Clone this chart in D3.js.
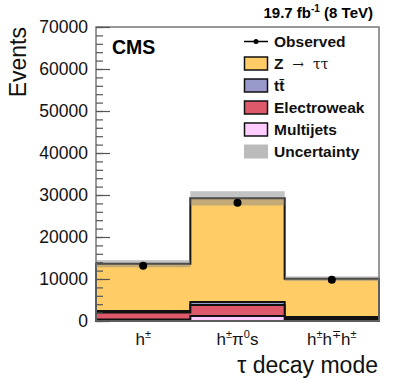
<!DOCTYPE html>
<html>
<head>
<meta charset="utf-8">
<script src="https://cdn.jsdelivr.net/npm/d3@7"></script>
<style>
body { margin: 0; background: #fff; }
svg { font-family: "Liberation Sans", Arial, sans-serif; }
</style>
</head>
<body>
<div id="chart"></div>
<script>
// tau decay modes, each label is a list of [base, superscript]
var categories = ["h1", "h1pi0s", "h3"];
var catLabels = [
	[["h", "\u00b1"]],
	[["h", "\u00b1"], ["\u03c0", "0"], ["s", ""]],
	[["h", "\u00b1"], ["h", "\u2213"], ["h", "\u00b1"]]
];

// stacked backgrounds (bottom to top)
var multijets = [360, 1190, 250];
var electroweak = [1640, 2610, 450];
var ttbar = [380, 720, 250];
var ztautau = [11260, 24680, 9120];
var uncertainty = [850, 1700, 550];
var observed = [13170, 28150, 9830];

var yTicks = [0, 10000, 20000, 30000, 40000, 50000, 60000, 70000];

var width = 399, height = 387;
var plot = {left: 96, right: 379, top: 27, bottom: 321};

var svg = d3.select("#chart").append("svg")
	.attr("width", width)
	.attr("height", height);

var x = d3.scaleBand()
	.domain(categories)
	.range([plot.left, plot.right])
	.padding(0);

var y = d3.scaleLinear()
	.domain([0, 70000])
	.range([plot.bottom, plot.top]);

// layers: name, values, colour (bottom first)
var layers = [
	{name: "Multijets", values: multijets, color: "#ffccff"},
	{name: "Electroweak", values: electroweak, color: "#de5a6a"},
	{name: "ttbar", values: ttbar, color: "#9999cc"},
	{name: "Z", values: ztautau, color: "#ffcc66"}
];

// cumulative sums
var cum = categories.map(() => 0);
layers.forEach(function(l) {
	l.top = l.values.map((v, i) => (cum[i] += v));
});
var total = cum.slice();

function stepPath(tops) {
	var p = d3.path();
	p.moveTo(x(categories[0]), y(0));
	categories.forEach(function(c, i) {
		p.lineTo(x(c), y(tops[i]));
		p.lineTo(x(c) + x.bandwidth(), y(tops[i]));
	});
	p.lineTo(plot.right, y(0));
	p.closePath();
	return p.toString();
}

// draw the stack, largest first so smaller ones are drawn over it
layers.slice().reverse().forEach(function(l) {
	svg.append("path")
		.attr("d", stepPath(l.top))
		.attr("fill", l.color)
		.attr("stroke", "#111")
		.attr("stroke-width", 2)
		.attr("stroke-linejoin", "miter");
});

// uncertainty band
svg.selectAll(".unc")
	.data(categories)
	.enter().append("rect")
		.attr("class", "unc")
		.attr("x", d => x(d))
		.attr("width", x.bandwidth())
		.attr("y", (d, i) => y(total[i] + uncertainty[i]))
		.attr("height", (d, i) => y(total[i] - uncertainty[i]) - y(total[i] + uncertainty[i]))
		.attr("fill", "#888")
		.attr("fill-opacity", 0.5);

// observed data
svg.selectAll(".err")
	.data(categories)
	.enter().append("line")
		.attr("x1", d => x(d) + x.bandwidth() / 2)
		.attr("x2", d => x(d) + x.bandwidth() / 2)
		.attr("y1", (d, i) => y(observed[i] + Math.sqrt(observed[i])))
		.attr("y2", (d, i) => y(observed[i] - Math.sqrt(observed[i])))
		.attr("stroke", "#000");
svg.selectAll(".obs")
	.data(categories)
	.enter().append("circle")
		.attr("cx", d => x(d) + x.bandwidth() / 2)
		.attr("cy", (d, i) => y(observed[i]))
		.attr("r", 4)
		.attr("fill", "#000");

// frame
svg.append("rect")
	.attr("x", plot.left)
	.attr("y", plot.top)
	.attr("width", plot.right - plot.left)
	.attr("height", plot.bottom - plot.top)
	.attr("fill", "none")
	.attr("stroke", "#777")
	.attr("stroke-width", 1.5);

// y axis, ticks pointing inwards
var minor = svg.append("g")
	.attr("transform", "translate(" + plot.left + ",0)")
	.call(d3.axisLeft(y).tickValues(d3.range(0, 70001, 2000)).tickSize(-7).tickFormat(""));
minor.select(".domain").remove();
var major = svg.append("g")
	.attr("transform", "translate(" + plot.left + ",0)")
	.call(d3.axisLeft(y).tickValues(yTicks).tickSize(-14).tickPadding(8).tickFormat(d3.format("d")));
major.select(".domain").remove();
svg.selectAll(".tick line").attr("stroke", "#555").attr("stroke-width", 1.2);
major.selectAll("text")
	.attr("font-size", "17.5px")
	.attr("fill", "#111")
	.attr("font-family", "Liberation Sans, Arial, sans-serif");

// category labels with superscripts
svg.selectAll(".cat")
	.data(catLabels)
	.enter().append("text")
		.attr("class", "cat")
		.attr("x", (d, i) => x(categories[i]) + x.bandwidth() / 2)
		.attr("y", 345)
		.attr("text-anchor", "middle")
		.attr("font-size", "17px")
		.attr("fill", "#111")
		.each(function(parts) {
			var t = d3.select(this);
			var raised = false;
			parts.forEach(function(p) {
				t.append("tspan").attr("dy", raised ? 7 : 0).text(p[0]);
				raised = false;
				if (p[1]) {
					t.append("tspan").attr("dy", -7).attr("font-size", "11px").text(p[1]);
					raised = true;
				}
			});
		});

// axis titles
svg.append("text")
	.attr("transform", "translate(26," + plot.top + ") rotate(-90)")
	.attr("text-anchor", "end")
	.attr("font-size", "23px")
	.attr("fill", "#111")
	.text("Events");
svg.append("text")
	.attr("x", 378)
	.attr("y", 373)
	.attr("text-anchor", "end")
	.attr("font-size", "23px")
	.attr("fill", "#111")
	.text("\u03c4 decay mode");

// CMS label and luminosity
svg.append("text")
	.attr("x", 112)
	.attr("y", 54)
	.attr("font-size", "19.5px")
	.attr("font-weight", "bold")
	.text("CMS");
var lumi = svg.append("text")
	.attr("x", 373)
	.attr("y", 18)
	.attr("text-anchor", "end")
	.attr("font-size", "15px")
	.attr("font-weight", "bold");
lumi.append("tspan").text("19.7 fb");
lumi.append("tspan").attr("dy", -6).attr("font-size", "10px").text("-1");
lumi.append("tspan").attr("dy", 6).text(" (8 TeV)");

// legend
var legendItems = [
	{label: "Observed", type: "data"},
	{label: "Z", extra: "  \u2192  \u03c4\u03c4", type: "box", color: "#ffcc66"},
	{label: "t\u0074\u0304", type: "box", color: "#9999cc"},
	{label: "Electroweak", type: "box", color: "#de5a6a"},
	{label: "Multijets", type: "box", color: "#ffccff"},
	{label: "Uncertainty", type: "unc", color: "#bbbbbb"}
];
var legend = svg.append("g");
legendItems.forEach(function(d, i) {
	var cy = 41.5 + i * 22;
	var g = legend.append("g");
	if (d.type == "data") {
		g.append("line").attr("x1", 244).attr("x2", 268).attr("y1", cy).attr("y2", cy)
			.attr("stroke", "#000").attr("stroke-width", 1.5);
		g.append("circle").attr("cx", 256).attr("cy", cy).attr("r", 2.5).attr("fill", "#000");
	} else if (d.type == "box") {
		g.append("rect").attr("x", 244.5).attr("y", cy - 6.5).attr("width", 23).attr("height", 13)
			.attr("fill", d.color).attr("stroke", "#111").attr("stroke-width", 1.5);
	} else {
		g.append("rect").attr("x", 244).attr("y", cy - 7).attr("width", 24).attr("height", 14)
			.attr("fill", d.color);
	}
	var t = g.append("text")
		.attr("x", 274)
		.attr("y", cy + 5.5)
		.attr("font-size", "15.5px")
		.attr("font-weight", "bold")
		.attr("fill", "#111")
		.style("white-space", "pre");
	t.append("tspan").text(d.label);
	if (d.extra) t.append("tspan").attr("font-weight", "normal").attr("font-family", "DejaVu Serif, serif").attr("font-size", "14px").text(d.extra);
});
</script>
</body>
</html>
